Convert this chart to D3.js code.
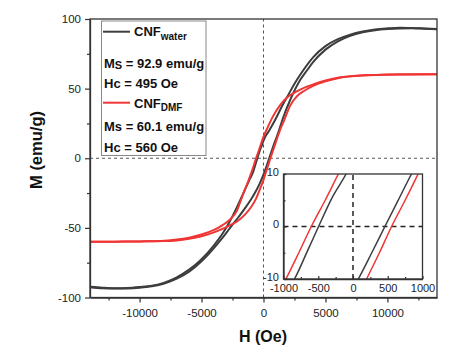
<!DOCTYPE html>
<html><head><meta charset="utf-8">
<script src="https://cdn.jsdelivr.net/npm/d3@7"></script>
<style>body{margin:0;background:#fff}</style>
</head><body>
<svg id="c" width="463" height="359"></svg>
<script>
// ---- tick values ----
const xTicks = [-10000, -5000, 0, 5000, 10000];
const xMinor = [-12500, -7500, -2500, 2500, 7500, 12500];
const yTicks = [-100, -50, 0, 50, 100];
const yMinor = [-75, -25, 25, 75];
const insetXTicks = [-1000, -500, 0, 500, 1000];
const insetXMinor = [-750, -250, 250, 750];
const insetYTicks = [-10, 0, 10];
const insetYMinor = [-5, 5];

// ---- series (H in Oe, M in emu/g) ----
const waterDescH = [-14000,-13000,-12000,-11000,-10000,-9000,-8000,-7000,-6000,-5000,-4000,-3300,-2700,-2160,-1620,-1080,-842,-650,-495,-300,-100,0,500,1000,1500,2000,2500,3000,4000,5000,6000,7000,8000,9000,10000,11000,12000,13000,14000];
const waterDescM = [-92.3,-93.0,-93.4,-93.2,-92.5,-91.5,-89.3,-85.5,-80,-72.5,-62.5,-54,-45,-35.5,-25,-14.5,-10,-4.5,0,5.5,10,12.7,20.5,28.5,37.5,45.5,53.5,60.5,72.5,80.5,85.5,88.8,91,92.5,93.3,93.8,93.6,93.2,92.8];
const waterAscH = [-14000,-13000,-12000,-11000,-10000,-9000,-8000,-7000,-6000,-5000,-4000,-3300,-2700,-2000,-1500,-1000,-700,-300,76,270,459,650,842,1080,1620,2160,2970,3500,4000,5000,6000,7000,8000,9000,10000,11000,12000,13000,14000];
const waterAscM = [-92.6,-93.4,-93.6,-93.5,-93,-92,-90,-86.5,-81.5,-74,-64.5,-57,-50,-42,-36,-29.5,-25,-18,-10,-5,0,5,10,15.6,30,42,56.3,63,69,78,84,88,90.5,92,92.8,93.2,93.3,93,92.6];
const dmfDescH = [-14000,-12000,-10000,-8000,-7000,-6000,-5000,-4000,-3300,-2700,-2160,-1700,-1300,-965,-780,-600,-400,-211,0,300,700,1080,1500,2000,2500,3000,4000,5000,6000,7000,8000,10000,12000,14000];
const dmfDescM = [-60,-59.9,-59.7,-59.2,-58.4,-57,-54.8,-51.5,-48,-44,-38,-27,-18,-10,-5,0,5,10,15.5,21.5,29,34.8,40,44.3,47.2,49.5,53,55.8,57.8,58.9,59.6,60.1,60.3,60.3];
const dmfAscH = [-14000,-12000,-10000,-8000,-7000,-6000,-5000,-4000,-3000,-2500,-2000,-1500,-1000,-600,-300,0,196,380,555,750,937,1300,1700,2160,2700,3300,4000,5000,6000,7000,8000,10000,12000,14000];
const dmfAscM = [-60,-59.9,-59.7,-59.5,-59,-57.8,-56,-53.2,-49.5,-47.2,-44.5,-40.5,-35,-29,-22.5,-15.5,-10,-5,0,5,10,19.5,28,38,44.5,48.5,52,55.3,57.5,58.8,59.5,60,60.2,60.3];

const series = [
  {name: "water", color: "#3d3d3d", branches: [[waterDescH, waterDescM], [waterAscH, waterAscM]]},
  {name: "DMF", color: "#f03535", branches: [[dmfDescH, dmfDescM], [dmfAscH, dmfAscM]]}
];

const FONT = "'Liberation Sans', Arial, Helvetica, sans-serif";
const svg = d3.select("#c").style("font-family", FONT);

// ---- main scales ----
const x = d3.scaleLinear().domain([-14000, 14000]).range([90, 437]);
const y = d3.scaleLinear().domain([-100, 100]).range([297.5, 19]);

svg.append("defs").append("clipPath").attr("id", "mainClip")
  .append("rect").attr("x", 90).attr("y", 19).attr("width", 347).attr("height", 278.5);

// dashed zero lines
svg.append("line").attr("x1", x(-14000)).attr("x2", x(14000)).attr("y1", y(0)).attr("y2", y(0))
  .attr("stroke", "#555").attr("stroke-width", 1).attr("stroke-dasharray", "3,3");
svg.append("line").attr("x1", x(0)).attr("x2", x(0)).attr("y1", y(-100)).attr("y2", y(100))
  .attr("stroke", "#555").attr("stroke-width", 1).attr("stroke-dasharray", "3,3");

function drawCurves(g, xs, ys, w) {
  series.forEach(s => {
    s.branches.forEach(([H, M]) => {
      const pts = H.map((h, i) => [h, M[i]]);
      const line = d3.line().x(d => xs(d[0])).y(d => ys(d[1])).curve(d3.curveMonotoneX);
      g.append("path").attr("d", line(pts)).attr("fill", "none")
        .attr("stroke", s.color).attr("stroke-width", w).attr("stroke-linejoin", "round");
    });
  });
}
const mainG = svg.append("g").attr("clip-path", "url(#mainClip)");
drawCurves(mainG, x, y, 2);

// frame
svg.append("rect").attr("x", 90).attr("y", 19).attr("width", 347).attr("height", 278.5)
  .attr("fill", "none").attr("stroke", "#333").attr("stroke-width", 1.3);

// axes
function styleAxis(g, fs) {
  g.select(".domain").attr("stroke", "#333").attr("stroke-width", 1.3);
  g.selectAll(".tick line").attr("stroke", "#333").attr("stroke-width", 1.2);
  g.selectAll(".tick text").attr("fill", "#222").style("font-size", fs + "px").style("font-family", FONT);
}
const xAx = svg.append("g").attr("transform", `translate(0,${y(-100)})`)
  .call(d3.axisBottom(x).tickValues(xTicks).tickSize(5).tickSizeOuter(0).tickPadding(6).tickFormat(d => String(d)));
styleAxis(xAx, 11.5);
const xAxm = svg.append("g").attr("transform", `translate(0,${y(-100)})`)
  .call(d3.axisBottom(x).tickValues(xMinor).tickSize(3).tickSizeOuter(0).tickFormat(""));
styleAxis(xAxm, 11.5); xAxm.select(".domain").remove();
const yAx = svg.append("g").attr("transform", `translate(${x(-14000)},0)`)
  .call(d3.axisLeft(y).tickValues(yTicks).tickSize(5).tickSizeOuter(0).tickPadding(4).tickFormat(d => String(d)));
styleAxis(yAx, 11.5);
const yAxm = svg.append("g").attr("transform", `translate(${x(-14000)},0)`)
  .call(d3.axisLeft(y).tickValues(yMinor).tickSize(3).tickSizeOuter(0).tickFormat(""));
styleAxis(yAxm, 11.5); yAxm.select(".domain").remove();

// axis titles
svg.append("text").attr("x", 263).attr("y", 342).attr("text-anchor", "middle")
  .style("font-size", "16px").style("font-weight", "bold").attr("fill", "#111").text("H (Oe)");
svg.append("text").attr("transform", "translate(42,150) rotate(-90)").attr("text-anchor", "middle")
  .style("font-size", "16.5px").style("font-weight", "bold").attr("fill", "#111").text("M (emu/g)");

// legend
const lg = svg.append("g");
lg.append("rect").attr("x", 101.5).attr("y", 21).attr("width", 104.5).attr("height", 134.5)
  .attr("fill", "#fff").attr("stroke", "#888").attr("stroke-width", 1);
const legendItems = [
  {color: series[0].color, main: "CNF", sub: "water", ly: 31.7, ty: 36},
  {color: series[1].color, main: "CNF", sub: "DMF", ly: 102.7, ty: 107.5}
];
legendItems.forEach(it => {
  lg.append("line").attr("x1", 103).attr("x2", 130).attr("y1", it.ly).attr("y2", it.ly)
    .attr("stroke", it.color).attr("stroke-width", 2);
  const t = lg.append("text").attr("x", 134).attr("y", it.ty).attr("fill", "#111")
    .style("font-size", "13px").style("font-weight", "bold");
  t.append("tspan").text(it.main);
  t.append("tspan").attr("dy", 3.5).style("font-size", "10px").text(it.sub);
});
const statLines = [
  {y: 67.5, sub: true, txt: " = 92.9 emu/g"},
  {y: 87.5, plain: "Hc = 495 Oe"},
  {y: 130.5, sub: false, txt: "Ms = 60.1 emu/g"},
  {y: 151.5, plain: "Hc = 560 Oe"}
];
statLines.forEach(s => {
  const t = lg.append("text").attr("x", 104).attr("y", s.y).attr("fill", "#111")
    .style("font-size", "13px").style("font-weight", "bold");
  if (s.plain) { t.text(s.plain); return; }
  if (s.sub) {
    t.append("tspan").text("M");
    t.append("tspan").attr("dy", 1.5).style("font-size", "11px").text("S");
    t.append("tspan").attr("dy", -1.5).text(s.txt);
  } else {
    t.text(s.txt);
  }
});

// ---- inset ----
const ix = d3.scaleLinear().domain([-1000, 1000]).range([283.5, 422.5]);
const iy = d3.scaleLinear().domain([-10, 10]).range([279, 174]);
svg.select("defs").append("clipPath").attr("id", "insetClip")
  .append("rect").attr("x", 283.5).attr("y", 174).attr("width", 139).attr("height", 105);
svg.append("rect").attr("x", 283.5).attr("y", 174).attr("width", 139).attr("height", 105).attr("fill", "#fff");
const inG = svg.append("g").attr("clip-path", "url(#insetClip)");
inG.append("line").attr("x1", ix(-1000)).attr("x2", ix(1000)).attr("y1", iy(0)).attr("y2", iy(0))
  .attr("stroke", "#222").attr("stroke-width", 1.5).attr("stroke-dasharray", "5,4");
inG.append("line").attr("x1", ix(0)).attr("x2", ix(0)).attr("y1", iy(-10)).attr("y2", iy(10))
  .attr("stroke", "#222").attr("stroke-width", 1.5).attr("stroke-dasharray", "5,4");
drawCurves(inG, ix, iy, 1.5);
svg.append("rect").attr("x", 283.5).attr("y", 174).attr("width", 139).attr("height", 105)
  .attr("fill", "none").attr("stroke", "#333").attr("stroke-width", 1.3);
const ixAx = svg.append("g").attr("transform", `translate(0,${iy(-10)})`)
  .call(d3.axisBottom(ix).tickValues(insetXTicks).tickSize(-3).tickSizeOuter(0).tickPadding(5.5).tickFormat(d => String(d)));
styleAxis(ixAx, 11);
const ixAxm = svg.append("g").attr("transform", `translate(0,${iy(-10)})`)
  .call(d3.axisBottom(ix).tickValues(insetXMinor).tickSize(-2).tickSizeOuter(0).tickFormat(""));
styleAxis(ixAxm, 11); ixAxm.select(".domain").remove();
const iyAx = svg.append("g").attr("transform", `translate(${ix(-1000)},0)`)
  .call(d3.axisLeft(iy).tickValues(insetYTicks).tickSize(-3).tickSizeOuter(0).tickPadding(4.5).tickFormat(d => String(d)));
styleAxis(iyAx, 11);
iyAx.selectAll(".tick text").attr("dy", "0.1em");
const iyAxm = svg.append("g").attr("transform", `translate(${ix(-1000)},0)`)
  .call(d3.axisLeft(iy).tickValues(insetYMinor).tickSize(-2).tickSizeOuter(0).tickFormat(""));
styleAxis(iyAxm, 11); iyAxm.select(".domain").remove();
</script>
</body></html>
